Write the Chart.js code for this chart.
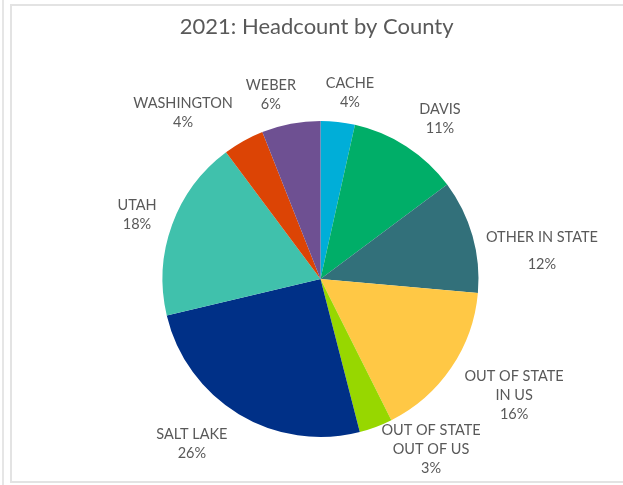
<!DOCTYPE html>
<html>
<head>
<meta charset="utf-8">
<script src="https://cdn.jsdelivr.net/npm/chart.js@4/dist/chart.umd.min.js"></script>
<style>
  html,body{margin:0;padding:0;background:#fff;}
  #wrap{position:relative;width:623px;height:485px;overflow:hidden;}
  #outerLine{position:absolute;left:2px;top:0;width:2px;height:485px;background:#e6e6e6;}
  #frame{position:absolute;left:10px;top:4px;width:660px;height:479px;border:2px solid #e3e3e3;box-sizing:border-box;}
  canvas{position:absolute;left:0;top:0;}
</style>
</head>
<body>
<div id="wrap">
  <div id="outerLine"></div>
  <div id="frame"></div>
  <canvas id="c" width="623" height="485"></canvas>
</div>
<script>
// ---- data ----
const title = '2021: Headcount by County';
const categories = [
  ['CACHE'],
  ['DAVIS'],
  ['OTHER IN STATE'],
  ['OUT OF STATE', 'IN US'],
  ['OUT OF STATE', 'OUT OF US'],
  ['SALT LAKE'],
  ['UTAH'],
  ['WASHINGTON'],
  ['WEBER']
];
const values = [3.5, 11.3, 11.6, 16.2, 3.4, 25.3, 18.5, 4.2, 6.0];
const pctLabels = ['4%', '11%', '12%', '16%', '3%', '26%', '18%', '4%', '6%'];

// ---- styles ----
const colors = ['#00AED8', '#00AE68', '#32707A', '#FFC845', '#97D700', '#003087', '#40C1AC', '#DC4405', '#6E5092'];
const textColor = '#595959';
const fontFamily = 'Lato, "Open Sans", sans-serif';

// label placement: distance as multiple of radius, angle nudge (deg) from slice middle
const labelDistance = [1.192, 1.264, 1.413, 1.428, 1.284, 1.321, 1.231, 1.366, 1.206];
const labelAngleNudge = [2.7, 3.8, 8.5, -3.3, -12.5, 6.9, -0.6, -10.4, -4.3];
const labelExtraGap = [0, 0, 8, 0, 0, 0, 0, 0, 0];

const sliceLabels = {
  id: 'sliceLabels',
  afterDatasetsDraw(chart) {
    const ctx = chart.ctx;
    const meta = chart.getDatasetMeta(0);
    ctx.save();
    ctx.font = '14.5px ' + fontFamily;
    ctx.fillStyle = textColor;
    ctx.textAlign = 'center';
    ctx.textBaseline = 'middle';
    const lh = 19;
    meta.data.forEach((arc, i) => {
      const p = arc.getProps(['x', 'y', 'startAngle', 'endAngle', 'outerRadius'], true);
      const mid = (p.startAngle + p.endAngle) / 2 + labelAngleNudge[i] * Math.PI / 180;
      const d = p.outerRadius * labelDistance[i];
      const cx = p.x + Math.cos(mid) * d;
      const cy = p.y + Math.sin(mid) * d;
      const lines = categories[i].concat([pctLabels[i]]);
      const total = (lines.length - 1) * lh + labelExtraGap[i];
      let y = cy - total / 2;
      lines.forEach((t, k) => {
        if (k === lines.length - 1 && k > 0) y += labelExtraGap[i];
        ctx.fillText(t, cx, y);
        y += lh;
      });
    });
    ctx.restore();
  }
};

const titlePlugin = {
  id: 'titleText',
  afterDraw(chart) {
    const ctx = chart.ctx;
    ctx.save();
    ctx.font = '22px ' + fontFamily;
    ctx.fillStyle = textColor;
    ctx.textAlign = 'center';
    ctx.textBaseline = 'alphabetic';
    ctx.fillText(title, 316.7, 33.5);
    ctx.restore();
  }
};

new Chart(document.getElementById('c'), {
  type: 'pie',
  data: {
    labels: categories.map(c => c.join(' ')),
    datasets: [{
      data: values,
      backgroundColor: colors,
      borderWidth: 0,
      hoverOffset: 0
    }]
  },
  options: {
    responsive: false,
    animation: false,
    events: [],
    layout: { padding: { top: 121, bottom: 48, left: 18, right: 0 } },
    plugins: {
      legend: { display: false },
      title: { display: false },
      tooltip: { enabled: false }
    }
  },
  plugins: [sliceLabels, titlePlugin]
});
</script>
</body>
</html>
